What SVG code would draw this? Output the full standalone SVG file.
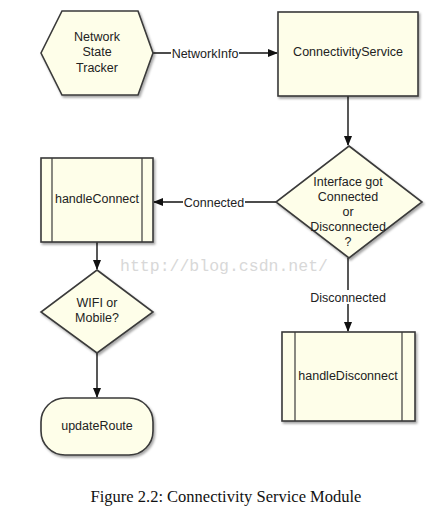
<svg xmlns="http://www.w3.org/2000/svg" width="438" height="509" viewBox="0 0 438 509">
<style>
.n{fill:#fefee9;stroke:#3a3a3a;stroke-width:1.6}
.i{fill:none;stroke:#3a3a3a;stroke-width:1.2}
.t{font-family:"Liberation Sans",Arial,sans-serif;font-size:12.5px;fill:#222;text-anchor:middle}
.c{fill:none;stroke:#111;stroke-width:1.4}
.lb{fill:#fff}
</style>
<defs>
<marker id="ah" markerWidth="10" markerHeight="8" refX="9" refY="4" orient="auto" markerUnits="userSpaceOnUse">
<path d="M0,0 L10,4 L0,8 Z" fill="#111"/>
</marker>
<filter id="sh" x="-10%" y="-10%" width="125%" height="125%">
<feDropShadow dx="1.5" dy="2" stdDeviation="1.2" flood-color="#000" flood-opacity="0.35"/>
</filter>
</defs>
<rect width="438" height="509" fill="#fff"/>
<g id="connectors">
<line class="c" x1="153" y1="53" x2="277" y2="53" marker-end="url(#ah)"/>
<rect class="lb" x="171" y="46" width="68" height="14"/>
<text class="t" x="205" y="57.5">NetworkInfo</text>
<line class="c" x1="348" y1="96" x2="348" y2="145" marker-end="url(#ah)"/>
<line class="c" x1="276" y1="202" x2="154" y2="202" marker-end="url(#ah)"/>
<rect class="lb" x="183" y="195" width="62" height="14"/>
<text class="t" x="214" y="206.5">Connected</text>
<line class="c" x1="348" y1="258" x2="348" y2="331" marker-end="url(#ah)"/>
<rect class="lb" x="309" y="290" width="78" height="14"/>
<text class="t" x="348" y="301.5">Disconnected</text>
<line class="c" x1="97" y1="242" x2="97" y2="269" marker-end="url(#ah)"/>
<line class="c" x1="97" y1="353" x2="97" y2="397" marker-end="url(#ah)"/>
</g>
<g id="network-state-tracker">
<polygon class="n" filter="url(#sh)" points="41,53 62,11 138,11 153,53 138,95 62,95"/>
<text class="t" x="97" y="41">Network</text>
<text class="t" x="97" y="56">State</text>
<text class="t" x="97" y="72">Tracker</text>
</g>
<g id="connectivity-service">
<rect class="n" filter="url(#sh)" x="278" y="12" width="140" height="84"/>
<text class="t" x="348" y="56">ConnectivityService</text>
</g>
<g id="interface-decision">
<polygon class="n" filter="url(#sh)" points="349,146 422,202 349,258 276,202"/>
<text class="t" x="348" y="186">Interface got</text>
<text class="t" x="348" y="201">Connected</text>
<text class="t" x="348" y="216">or</text>
<text class="t" x="348" y="231">Disconnected</text>
<text class="t" x="348" y="246">?</text>
</g>
<g id="handle-connect">
<rect class="n" filter="url(#sh)" x="41" y="158" width="112" height="84"/>
<line class="i" x1="52" y1="158" x2="52" y2="242"/>
<line class="i" x1="142" y1="158" x2="142" y2="242"/>
<text class="t" x="97" y="203">handleConnect</text>
</g>
<g id="wifi-or-mobile">
<polygon class="n" filter="url(#sh)" points="97,270 153,312 97,353 41,312"/>
<text class="t" x="97" y="307">WIFI or</text>
<text class="t" x="97" y="322">Mobile?</text>
</g>
<g id="update-route">
<rect class="n" filter="url(#sh)" x="41" y="398" width="112" height="57" rx="24" ry="24"/>
<text class="t" x="97" y="430">updateRoute</text>
</g>
<g id="handle-disconnect">
<rect class="n" filter="url(#sh)" x="282" y="332" width="133" height="89"/>
<line class="i" x1="295" y1="332" x2="295" y2="421"/>
<line class="i" x1="402" y1="332" x2="402" y2="421"/>
<text class="t" x="348" y="380">handleDisconnect</text>
</g>
<text x="224" y="271" font-family="Liberation Mono,monospace" font-size="16.5" fill="#d8d8d8" text-anchor="middle">http://blog.csdn.net/</text>
<text x="226" y="502" font-family="Liberation Serif,serif" font-size="16.5" fill="#111" text-anchor="middle">Figure 2.2: Connectivity Service Module</text>
</svg>
